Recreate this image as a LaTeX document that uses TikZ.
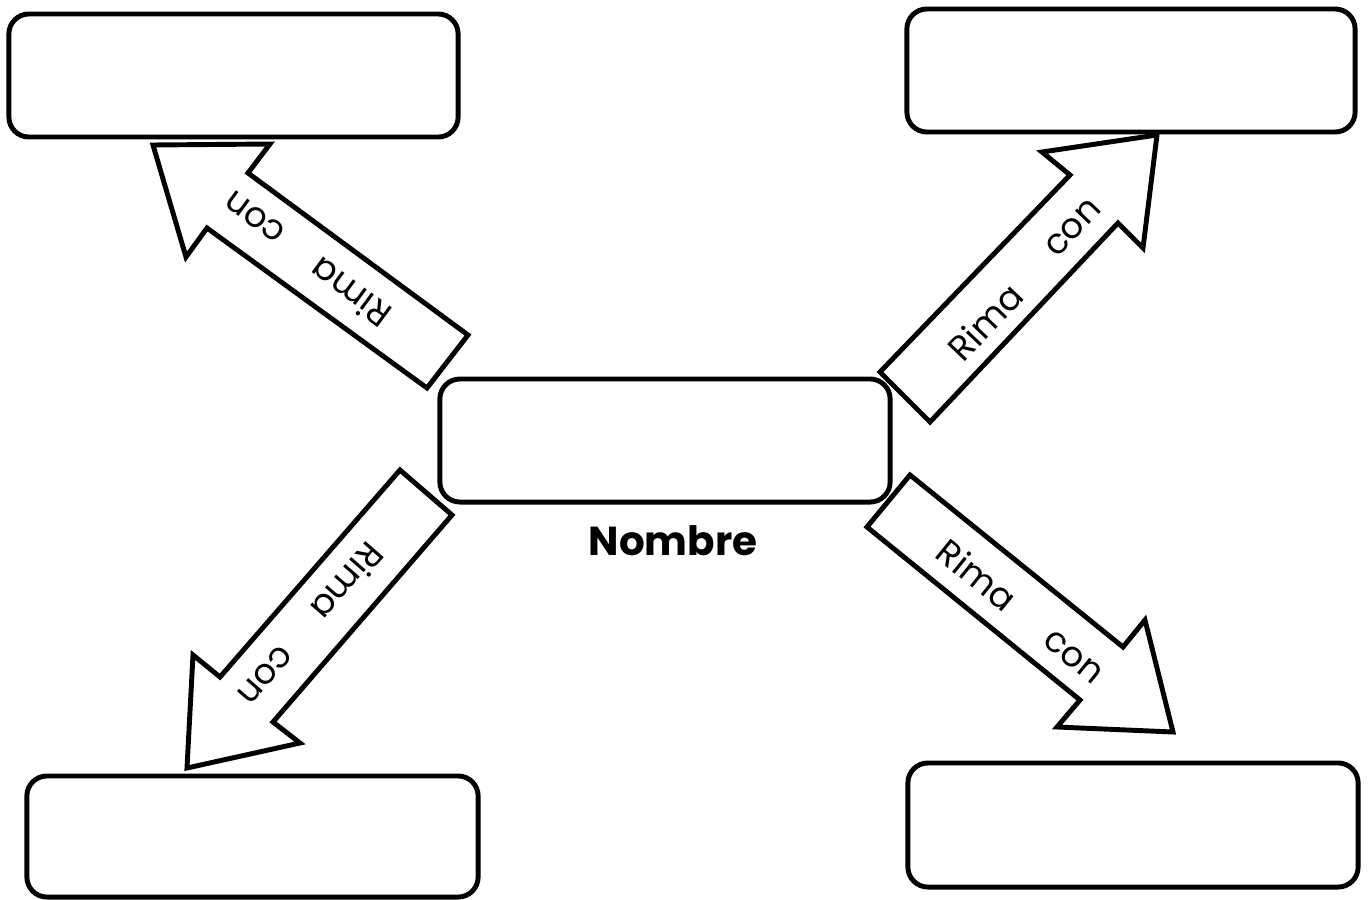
\documentclass[tikz,border=0pt]{standalone}
\usepackage{fontspec}
\setmainfont{Poppins}
\begin{document}
\begin{tikzpicture}[x=0.01cm,y=-0.01cm,
  box/.style={draw,line width=1.4pt,rounded corners=0.2cm,inner sep=0pt},
  blockarrow/.style={draw,fill=white,line width=1.4pt,line join=miter},
  lbl/.style={font=\fontsize{10}{12}\selectfont,inner sep=0pt}]
\useasboundingbox (0,0) rectangle (1369,900);
% block arrows
\draw[blockarrow] (153,145) -- (270,144) -- (248,173) -- (468,335) -- (427,388) -- (207,228) -- (186,257) -- cycle;
\draw[blockarrow] (1157,135) -- (1143,248) -- (1118,223) -- (930,422) -- (880,372) -- (1070,175) -- (1042,152) -- cycle;
\draw[blockarrow] (187,768) -- (193,655) -- (220,677) -- (400,470) -- (452,515) -- (273,722) -- (300,743) -- cycle;
\draw[blockarrow] (1173,732) -- (1057,727) -- (1080,700) -- (867,527) -- (910,475) -- (1123,647) -- (1145,620) -- cycle;
% boxes
\node[box,minimum width=4.49cm,minimum height=1.23cm] (tl) at (233.5,75.5) {};
\node[box,minimum width=4.48cm,minimum height=1.23cm] (tr) at (1131,70.5) {};
\node[box,minimum width=4.50cm,minimum height=1.23cm] (c) at (665,440.5) {};
\node[box,minimum width=4.51cm,minimum height=1.21cm] (bl) at (252.5,836.5) {};
\node[box,minimum width=4.50cm,minimum height=1.24cm] (br) at (1133,825) {};
\node[font=\bfseries\fontsize{11.5}{14}\selectfont,anchor=base,inner sep=0pt] (nombre) at (673,555) {Nombre};
% labels
\node[lbl,rotate=143.6] (tlcon) at (255,217) {con};
\node[lbl,rotate=143.6] (tlrima) at (350,293) {Rima};
\node[lbl,rotate=46.3] (trrima) at (985,322) {Rima};
\node[lbl,rotate=46.3] (trcon) at (1073,228) {con};
\node[lbl,rotate=-131] (blrima) at (348,582) {Rima};
\node[lbl,rotate=-131] (blcon) at (265,675) {con};
\node[lbl,rotate=-39] (brrima) at (977,575) {Rima};
\node[lbl,rotate=-39] (brcon) at (1073,657) {con};
\end{tikzpicture}
\end{document}
